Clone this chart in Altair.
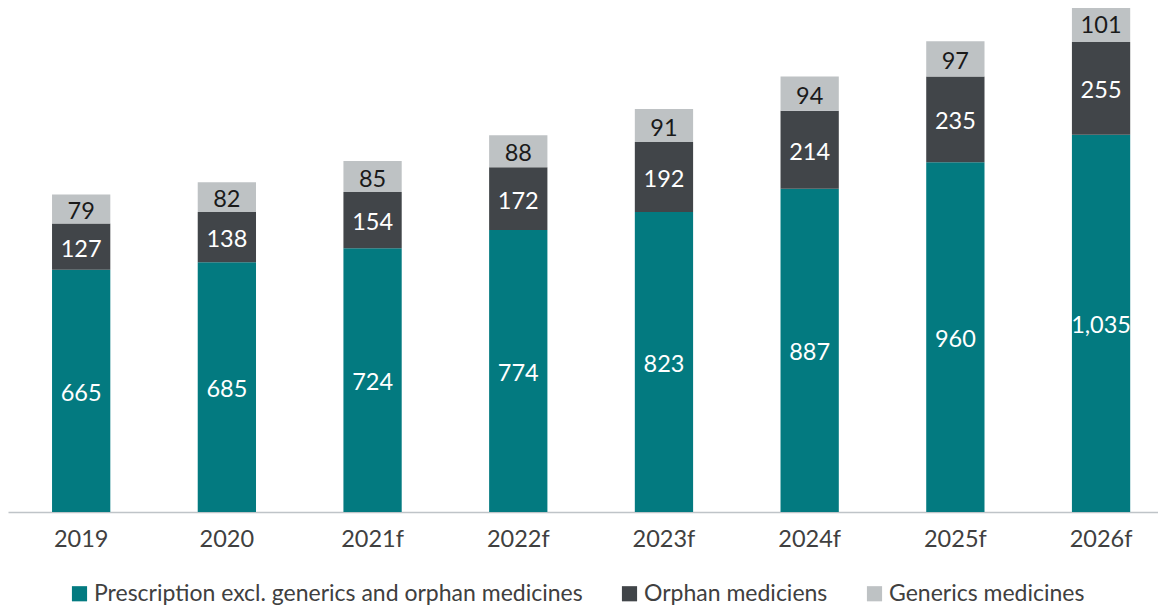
import altair as alt
import pandas as pd

years = ["2019", "2020", "2021f", "2022f", "2023f", "2024f", "2025f", "2026f"]
prescription = [665, 685, 724, 774, 823, 887, 960, 1035]
orphan = [127, 138, 154, 172, 192, 214, 235, 255]
generics = [79, 82, 85, 88, 91, 94, 97, 101]

categories = [
    "Prescription excl. generics and orphan medicines",
    "Orphan mediciens",
    "Generics medicines",
]
colors = ["#037A80", "#414549", "#BEC2C4"]

rows = []
for i, y in enumerate(years):
    for k, (cat, vals) in enumerate(zip(categories, [prescription, orphan, generics])):
        rows.append({"year": y, "category": cat, "value": vals[i], "order": k})
df = pd.DataFrame(rows)

FONT = "Lato"
FS = 23.5

base = alt.Chart(df).transform_stack(
    stack="value", groupby=["year"], as_=["v0", "v1"], sort=[{"field": "order", "order": "ascending"}]
).transform_calculate(mid="(datum.v0 + datum.v1) / 2")

x = alt.X(
    "year:N",
    sort=years,
    title=None,
    scale=alt.Scale(paddingInner=0.6, paddingOuter=0.2465, align=0.613),
    axis=alt.Axis(
        labelAngle=0,
        labelFont=FONT,
        labelFontSize=FS,
        labelColor="#404040",
        labelPadding=15,
        ticks=False,
        domainColor="#BFC4C8",
        domainWidth=1.5,
    ),
)
yscale = alt.Scale(domain=[0, 1383], nice=False)

bars = base.mark_bar().encode(
    x=x,
    y=alt.Y("v0:Q", scale=yscale, axis=None, title=None),
    y2="v1:Q",
    color=alt.Color(
        "category:N",
        scale=alt.Scale(domain=categories, range=colors),
        legend=alt.Legend(
            title=None,
            orient="none",
            legendX=60,
            legendY=574,
            direction="horizontal",
            symbolType="square",
            symbolSize=230,
            symbolStrokeWidth=0,
            labelFont=FONT,
            labelFontSize=23,
            labelColor="#404040",
            labelOffset=3,
            columnPadding=35,
            padding=0,
            labelLimit=800,
        ),
    ),
    order=alt.Order("order:Q"),
)

labels = base.mark_text(font=FONT, fontSize=FS, baseline="middle", align="center", dy=3).encode(
    x=alt.X("year:N", sort=years),
    y=alt.Y("mid:Q", scale=yscale),
    text=alt.Text("value:Q", format=",.0f"),
    color=alt.condition(
        alt.datum.category == "Generics medicines", alt.value("#1a1a1a"), alt.value("#ffffff")
    ),
)

chart = (
    alt.layer(bars, labels)
    .properties(
        width=1150,
        height=504,
        autosize=alt.AutoSizeParams(type="none"),
        padding={"left": 0, "right": 0, "top": 0, "bottom": 94},
    )
    .configure_view(stroke=None)
)

chart.save("out.html", embed_options={"renderer": "svg", "actions": False})
